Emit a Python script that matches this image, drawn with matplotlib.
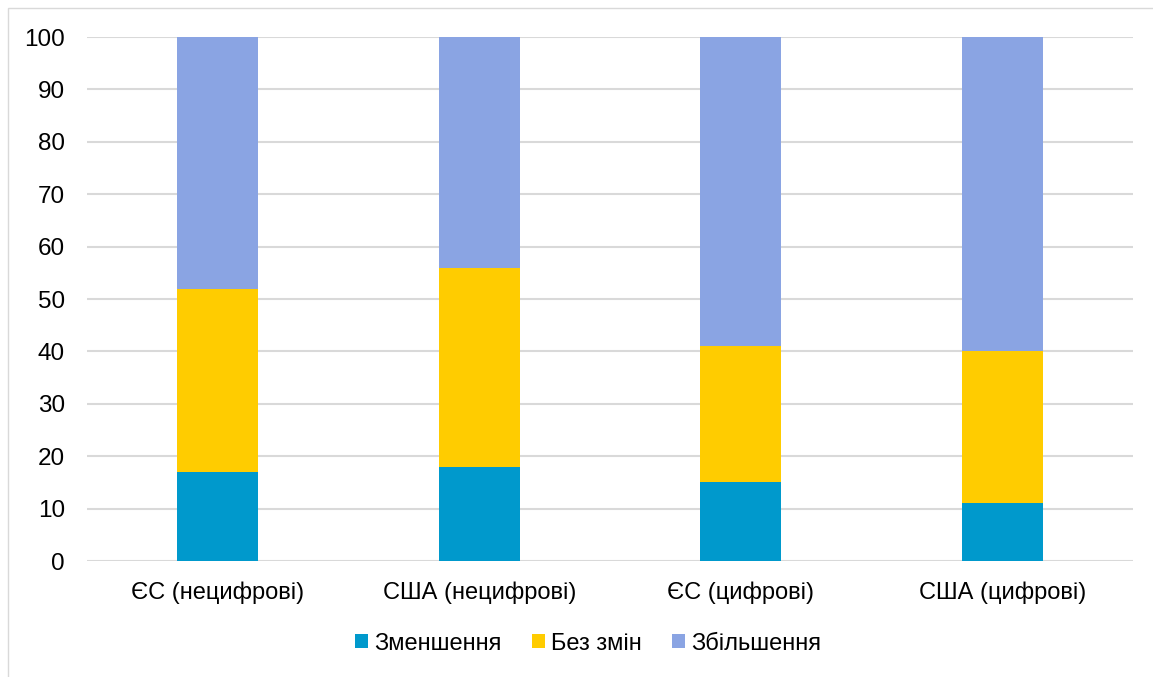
import matplotlib
matplotlib.use("Agg")
import matplotlib.pyplot as plt
from matplotlib.patches import Rectangle

plt.rcParams['font.family'] = ['Liberation Sans', 'DejaVu Sans']

categories = ['ЄС (нецифрові)', 'США (нецифрові)', 'ЄС (цифрові)', 'США (цифрові)']
decrease = [17, 18, 15, 11]
no_change = [35, 38, 26, 29]
increase = [48, 44, 59, 60]
series_names = ['Зменшення', 'Без змін', 'Збільшення']
colors = ['#0099cc', '#ffcc00', '#8aa4e3']

fig = plt.figure(figsize=(11.53, 6.77), dpi=100)
# chart frame (light gray, as in the original)
fig.patches.append(Rectangle((8 / 1153, -0.1), 1.2, (677 - 8) / 677 + 0.1,
                             transform=fig.transFigure, fill=False,
                             edgecolor='#d9d9d9', linewidth=1))
ax = fig.add_axes([87 / 1153, (677 - 561) / 677, 1046 / 1153, 524 / 677])

x = range(len(categories))
bottom2 = [a + b for a, b in zip(decrease, no_change)]
ax.bar(x, decrease, width=0.31, color=colors[0], label=series_names[0], zorder=3)
ax.bar(x, no_change, width=0.31, bottom=decrease, color=colors[1], label=series_names[1], zorder=3)
ax.bar(x, increase, width=0.31, bottom=bottom2, color=colors[2], label=series_names[2], zorder=3)

ax.set_xlim(-0.5, 3.5)
ax.set_ylim(0, 100)
ax.set_yticks(range(0, 101, 10))
ax.set_xticks(list(x))
ax.set_xticklabels(categories)
ax.grid(axis='y', color='#d9d9d9', linewidth=1.5, zorder=0)
ax.tick_params(axis='both', length=0, labelsize=17.5, colors='#000000')
ax.tick_params(axis='x', pad=15, labelsize=17)
ax.tick_params(axis='y', pad=16)
for s in ax.spines.values():
    s.set_visible(False)

ax.legend(loc='upper center', bbox_to_anchor=(588 / 1153, 0.097), bbox_transform=fig.transFigure,
          ncol=3, frameon=False,
          fontsize=17, handlelength=0.55, handleheight=0.55, handletextpad=0.25,
          columnspacing=1.3)

fig.savefig('out.png', dpi=100)
